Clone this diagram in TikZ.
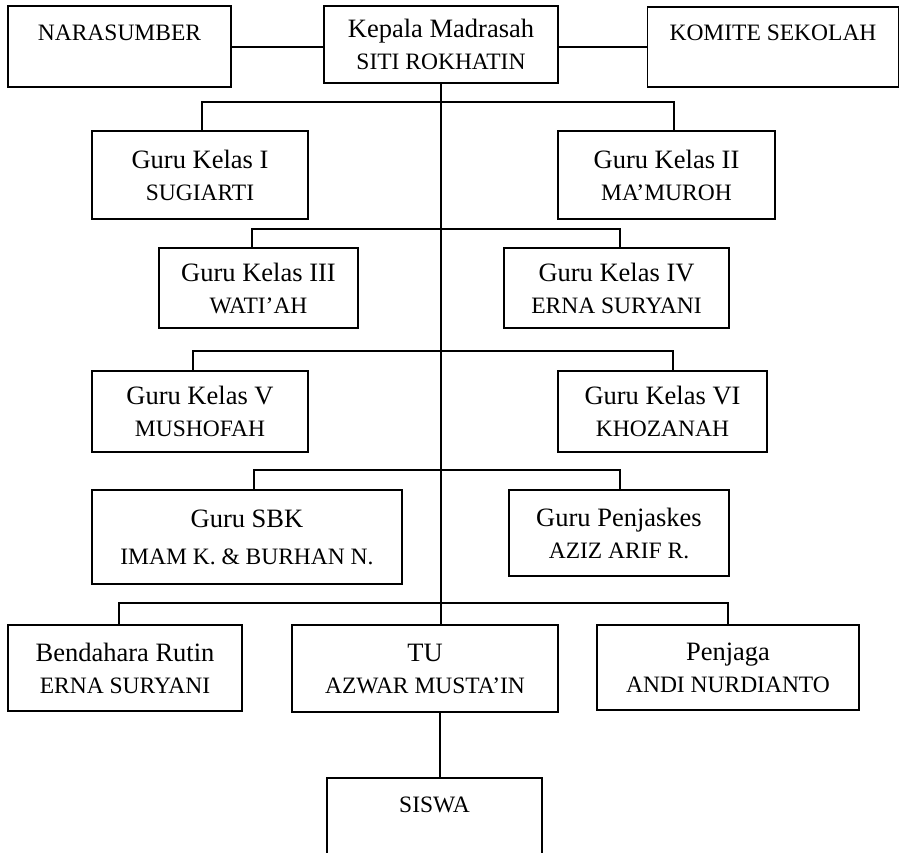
\documentclass[tikz,border=0pt]{standalone}
\usepackage{fontspec}
\setmainfont{Liberation Serif}
\usepackage{tikz}
\usetikzlibrary{positioning,calc}

\newcommand{\titlefont}{\fontsize{26.5}{32}\selectfont}
\newcommand{\namefont}{\fontsize{23.5}{32}\selectfont}

\tikzset{
  unit/.style={draw, line width=1.6pt, rectangle, align=center, inner sep=3pt,
    font=\fontsize{26.5}{32}\selectfont},
  link/.style={line width=1.5pt}
}

\begin{document}
\begin{tikzpicture}[x=1pt, y=-1pt]
    \clip (0,0) rectangle (900,853);
    % top row
    \node[unit, minimum width=223, minimum height=81] (nara) at (119.5,46.5) {\namefont NARASUMBER\\[-14pt] \strut};
    \node[unit, minimum width=234, minimum height=77] (kepala) at (441,44.5) {\titlefont Kepala Madrasah\\ \namefont SITI ROKHATIN};
    \node[unit, minimum width=251, minimum height=80] (komite) at (773,47) {\namefont KOMITE SEKOLAH\\[-14pt] \strut};
    % guru kelas
    \node[unit, minimum width=216, minimum height=88] (kelasI) at (200,175) {\titlefont Guru Kelas I\\ \namefont SUGIARTI};
    \node[unit, minimum width=217, minimum height=88] (kelasII) at (666.5,175) {\titlefont Guru Kelas II\\ \namefont MA’MUROH};
    \node[unit, minimum width=199, minimum height=80] (kelasIII) at (258.5,288) {\titlefont Guru Kelas III\\ \namefont WATI’AH};
    \node[unit, minimum width=225, minimum height=80] (kelasIV) at (616.5,288) {\titlefont Guru Kelas IV\\ \namefont ERNA SURYANI};
    \node[unit, minimum width=216, minimum height=81] (kelasV) at (200,411.5) {\titlefont Guru Kelas V\\ \namefont MUSHOFAH};
    \node[unit, minimum width=209, minimum height=81] (kelasVI) at (662.5,411.5) {\titlefont Guru Kelas VI\\ \namefont KHOZANAH};
    % guru mapel
    \node[unit, minimum width=310, minimum height=94] (sbk) at (247,537) {\titlefont Guru SBK\\[5pt] \namefont IMAM K. \& BURHAN N.};
    \node[unit, minimum width=220, minimum height=86] (penjas) at (619,533) {\titlefont Guru Penjaskes\\ \namefont AZIZ ARIF R.};
    % staf
    \node[unit, minimum width=234, minimum height=86] (bendahara) at (125,668) {\titlefont Bendahara Rutin\\ \namefont ERNA SURYANI};
    \node[unit, minimum width=266, minimum height=87] (tu) at (425,668.5) {\titlefont TU\\ \namefont AZWAR MUSTA’IN};
    \node[unit, minimum width=262, minimum height=85] (penjaga) at (728,667.5) {\titlefont Penjaga\\ \namefont ANDI NURDIANTO};
    \node[unit, minimum width=215, minimum height=81] (siswa) at (434.5,818.5) {\namefont SISWA\\[-14pt] \strut};

    % garis
    \draw[link] (nara.east |- 0,47) -- (kepala.west |- 0,47);
    \draw[link] (kepala.east |- 0,47) -- (komite.west |- 0,47);
    \draw[link] (kepala.south) -- (kepala.south |- tu.north);
    \draw[link] ([xshift=2]kelasI.north) -- ++(0,-28) -| ([xshift=7.5]kelasII.north);
    \draw[link] ([xshift=-6.5]kelasIII.north) -- ++(0,-18) -| ([xshift=3.5]kelasIV.north);
    \draw[link] ([xshift=-7]kelasV.north) -- ++(0,-19) -| ([xshift=10.5]kelasVI.north);
    \draw[link] ([xshift=7]sbk.north) -- ++(0,-19) -| ([xshift=1]penjas.north);
    \draw[link] ([xshift=-6]bendahara.north) -- ++(0,-21) -| (penjaga.north);
    \draw[link] ([xshift=5.5]siswa.north) -- ([xshift=5.5]siswa.north |- tu.south);
\end{tikzpicture}
\end{document}
